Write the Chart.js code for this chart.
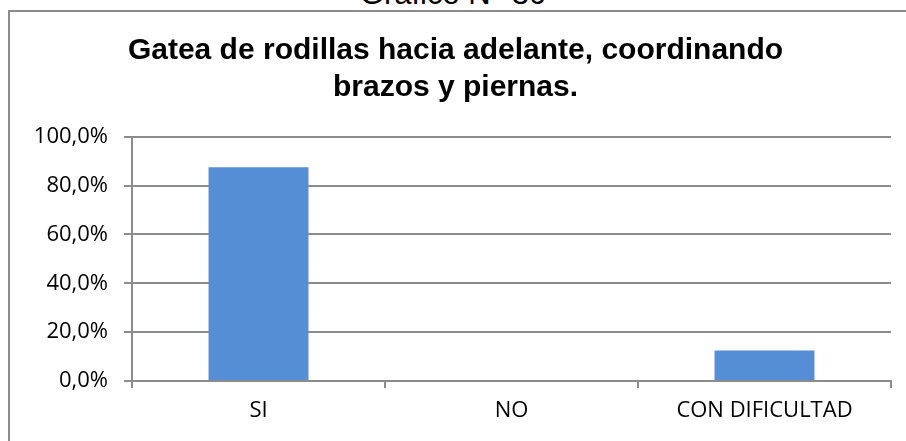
<!DOCTYPE html>
<html>
<head>
<meta charset="utf-8">
<script src="https://cdn.jsdelivr.net/npm/chart.js@4"></script>
<style>
  html, body { margin: 0; padding: 0; background: #fff; overflow: hidden; }
  #wrap { position: relative; width: 906px; height: 441px; }
  #frame { position: absolute; left: 8px; top: 10px; width: 1000px; height: 600px;
           border: 2px solid #8c8c8c; box-sizing: border-box; }
  #caption { position: absolute; left: 0; width: 906px; top: -24px; text-align: center;
             font: 31px "Liberation Sans", Arial, sans-serif; color: #000; }
  #chart { position: absolute; left: 0; top: 0; }
</style>
</head>
<body>
<div id="wrap">
  <div id="caption">Gráfico N° 30</div>
  <div id="frame"></div>
  <canvas id="chart" width="906" height="441"></canvas>
</div>
<script>
// Chart data
const categories = ['SI', 'NO', 'CON DIFICULTAD'];
const shares = [0.875, 0, 0.125];
const titleLines = ['Gatea de rodillas hacia adelante, coordinando', 'brazos y piernas.'];

const gridGray = '#8c8c8c';
const labelFont = '"Open Sans", sans-serif';

new Chart(document.getElementById('chart').getContext('2d'), {
  type: 'bar',
  data: {
    labels: categories,
    datasets: [{
      data: shares,
      backgroundColor: '#558ed5',
      barPercentage: 0.395,
      categoryPercentage: 1
    }]
  },
  options: {
    responsive: false,
    animation: false,
    layout: { padding: { left: 20, right: 15, top: 14, bottom: 0 } },
    plugins: {
      legend: { display: false },
      tooltip: { enabled: false },
      title: {
        display: true,
        text: titleLines,
        color: '#000',
        font: { family: '"Liberation Sans", Arial, sans-serif', size: 30, weight: 'bold', lineHeight: 1.23 },
        padding: { top: 18, bottom: 31 }
      }
    },
    scales: {
      x: {
        afterFit: s => { s.height = 60; },
        grid: { display: true, drawOnChartArea: false, offset: true, color: gridGray, lineWidth: 2, tickLength: 7 },
        border: { color: gridGray, width: 2 },
        ticks: { color: '#000', padding: 10, font: { family: labelFont, size: 22 } }
      },
      y: {
        min: 0,
        max: 1,
        afterFit: s => { s.width = 112; },
        ticks: {
          stepSize: 0.2,
          color: '#000',
          padding: 16,
          font: { family: labelFont, size: 22 },
          callback: v => (v * 100).toFixed(1).replace('.', ',') + '%'
        },
        grid: { color: gridGray, lineWidth: 2, tickLength: 8 },
        border: { color: gridGray, width: 2 }
      }
    }
  }
});
</script>
</body>
</html>
